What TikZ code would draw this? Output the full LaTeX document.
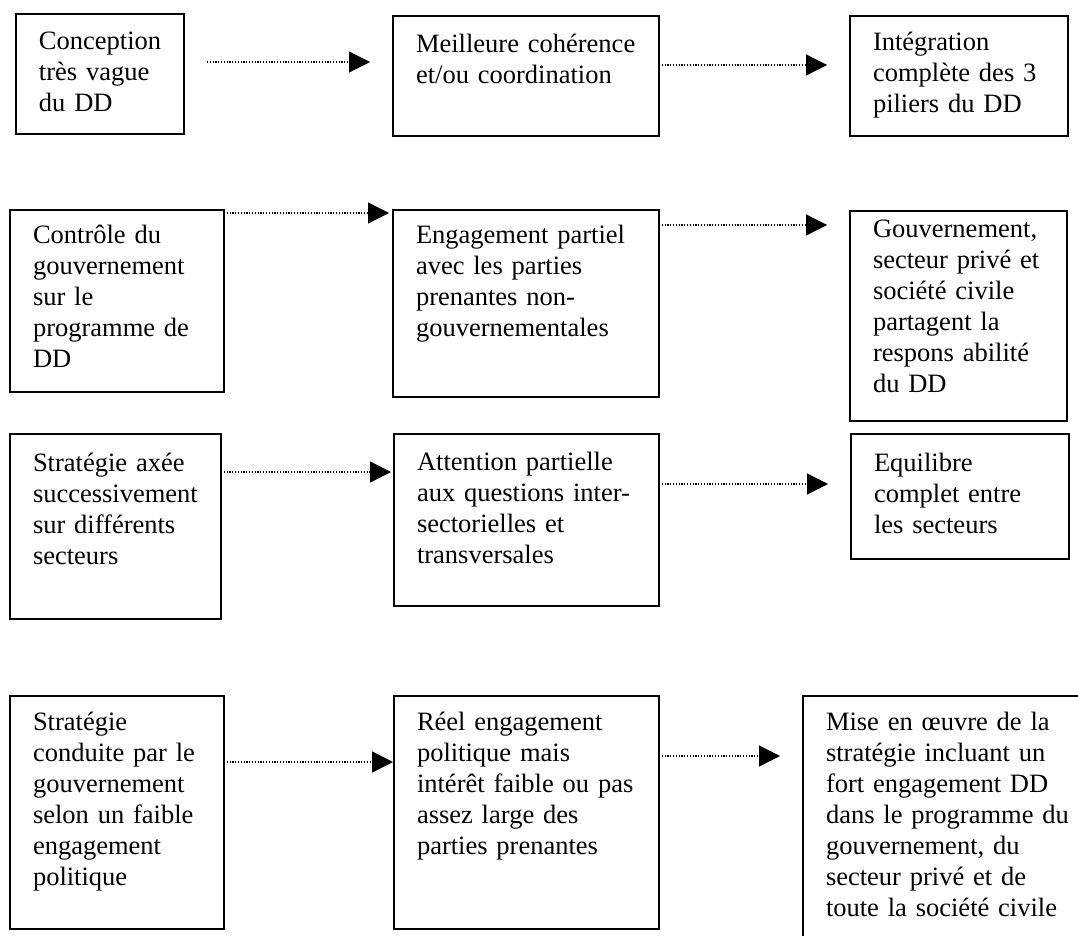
\documentclass[tikz,border=0pt]{standalone}
\usepackage{fontspec}
\setmainfont{Liberation Serif}
\usetikzlibrary{arrows.meta,positioning,calc}

\begin{document}
\begin{tikzpicture}[
  x=1pt, y=-1pt,
  box/.style={draw, line width=1.3pt, anchor=north west, inner sep=0pt,
              outer sep=0pt, align=left,
              execute at begin node={\leftskip=23pt},
              font=\fontsize{26.5}{31}\selectfont},
  arr/.style={-{Triangle[length=21pt, width=21pt]}, line width=1.2pt,
              dash pattern=on 1.2pt off 1.6pt}
]
\useasboundingbox (0,0) rectangle (1078,936);
\clip (0,0) rectangle (1078,936);

\node[box, text width=168pt, text height=36pt, text depth=84pt] (concept) at (16,14)
  {Conception\\très vague\\du DD};
\node[box, text width=266pt, text height=37pt, text depth=83pt] (coherence) at (393,16)
  {Meilleure cohérence\\et/ou coordination};
\node[box, text width=218pt, text height=35pt, text depth=85pt] (integration) at (850,16)
  {Intégration\\complète des 3\\piliers du DD};

\node[box, text width=214pt, text height=33pt, text depth=149pt] (controle) at (10,210)
  {Contrôle du\\gouvernement\\sur le\\programme de\\DD};
\node[box, text width=266pt, text height=33pt, text depth=154pt] (partiel) at (393,210)
  {Engagement partiel\\avec les parties\\prenantes non-\\gouvernementales};
\node[box, text width=217pt, text height=26pt, text depth=184pt] (partage) at (850,211)
  {Gouvernement,\\secteur privé et\\société civile\\partagent la\\respons abilité\\du DD};

\node[box, text width=211pt, text height=37pt, text depth=148pt] (secteurs) at (10,434)
  {Stratégie axée\\successivement\\sur différents\\secteurs};
\node[box, text width=265pt, text height=36pt, text depth=136pt] (attention) at (394,434)
  {Attention partielle\\aux questions inter-\\sectorielles et\\transversales};
\node[box, text width=218pt, text height=37pt, text depth=88pt] (equilibre) at (851,434)
  {Equilibre\\complet entre\\les secteurs};

\node[box, text width=214pt, text height=34pt, text depth=199pt] (faible) at (10,696)
  {Stratégie\\conduite par le\\gouvernement\\selon un faible\\engagement\\politique};
\node[box, text width=265pt, text height=34pt, text depth=199pt] (reel) at (394,696)
  {Réel engagement\\politique mais\\intérêt faible ou pas\\assez large des\\parties prenantes};
\node[box, text width=300pt, text height=34pt, text depth=266pt] (oeuvre) at (803,696)
  {Mise en œuvre de la\\stratégie incluant un\\fort engagement DD\\dans le programme du\\gouvernement, du\\secteur privé et de\\toute la société civile};

\coordinate (s1) at ([xshift=23pt,yshift=-48pt]concept.north east);
\coordinate (s2) at ([yshift=-49pt]coherence.north east);
\coordinate (s3) at ([yshift=-3pt]controle.north east);
\coordinate (s4) at ([yshift=-15pt]partiel.north east);
\coordinate (s5) at ([yshift=-38pt]secteurs.north east);
\coordinate (s6) at ([yshift=-50pt]attention.north east);
\coordinate (s7) at ([yshift=-66pt]faible.north east);
\coordinate (s8) at ([yshift=-60pt]reel.north east);

\draw[arr, shorten >=23pt] (s1) -- (s1 -| coherence.west);
\draw[arr, shorten >=23pt] (s2) -- (s2 -| integration.west);
\draw[arr, shorten >=4pt] (s3) -- (s3 -| partiel.west);
\draw[arr, shorten >=23pt] (s4) -- (s4 -| partage.west);
\draw[arr, shorten >=3pt] (s5) -- (s5 -| attention.west);
\draw[arr, shorten >=23pt] (s6) -- (s6 -| equilibre.west);
\draw[arr, shorten >=1pt] (s7) -- (s7 -| reel.west);
\draw[arr, shorten >=23pt] (s8) -- (s8 -| oeuvre.west);

\end{tikzpicture}
\end{document}
